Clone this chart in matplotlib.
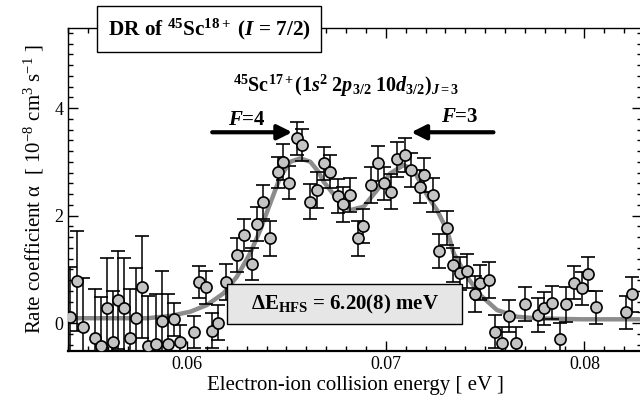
import matplotlib
matplotlib.use("Agg")
import matplotlib.pyplot as plt
from matplotlib.patches import Rectangle
from matplotlib.ticker import MultipleLocator

plt.rcParams['font.family'] = ['Liberation Serif', 'DejaVu Serif']
plt.rcParams['mathtext.fontset'] = 'custom'
plt.rcParams['mathtext.rm'] = 'Liberation Serif'
plt.rcParams['mathtext.it'] = 'Liberation Serif:italic'
plt.rcParams['mathtext.bf'] = 'Liberation Serif:bold'
plt.rcParams['mathtext.bfit'] = 'Liberation Serif:italic:bold'

# measured DR rate coefficients (energy in eV, rate in 1e-8 cm^3 s^-1)
energy = [0.05411, 0.05444, 0.05478, 0.05537, 0.05565, 0.05595, 0.05626, 0.05654,
          0.05683, 0.05713, 0.05743, 0.05775, 0.05802, 0.05842, 0.05873, 0.05903,
          0.05933, 0.05965, 0.06032, 0.06062, 0.06094, 0.06124, 0.06155, 0.06196,
          0.06253, 0.06284, 0.06326, 0.06354, 0.06384, 0.06418, 0.06455, 0.06485,
          0.06515, 0.06553, 0.06578, 0.06616, 0.06656, 0.06687, 0.06717, 0.06757,
          0.06784, 0.06818, 0.06858, 0.06885, 0.06925, 0.06959, 0.06989, 0.07026,
          0.07056, 0.07095, 0.07127, 0.07170, 0.07194, 0.07236, 0.07266, 0.07308,
          0.07337, 0.07375, 0.07409, 0.07451, 0.07476, 0.07518, 0.07552, 0.07585,
          0.07619, 0.07657, 0.07699, 0.07765, 0.07798, 0.07837, 0.07879, 0.07908,
          0.07950, 0.07988, 0.08017, 0.08059, 0.08210, 0.08240]
rate = [0.117, 0.781, -0.069, -0.285, -0.422, 0.273, -0.348, 0.428,
        0.273, -0.285, 0.087, 0.675, -0.422, -0.396, 0.043, -0.396,
        0.069, -0.348, -0.162, 0.768, 0.664, -0.143, 0.006, 0.768,
        1.265, 1.637, 1.098, 1.842, 2.257, 1.576, 2.804, 3.001,
        2.610, 3.436, 3.312, 2.257, 2.474, 2.971, 2.815, 2.363,
        2.208, 2.381, 1.576, 1.805, 2.567, 2.971, 2.599, 2.443,
        3.046, 3.126, 2.847, 2.536, 2.753, 2.381, 1.340, 1.773,
        1.079, 0.925, 0.973, 0.540, 0.750, 0.800, -0.162, -0.378,
        0.136, -0.378, 0.353, 0.149, 0.273, 0.378, -0.303, 0.348,
        0.750, 0.646, 0.912, 0.292, 0.199, 0.534]
rate_err = [0.93, 0.93, 0.91, 0.91, 0.91, 0.94, 0.94, 0.92,
            0.94, 0.92, 0.94, 0.95, 0.92, 0.93, 0.93, 0.93,
            0.31, 0.31, 0.30, 0.30, 0.31, 0.33, 0.33, 0.33,
            0.31, 0.30, 0.30, 0.31, 0.32, 0.32, 0.29, 0.33,
            0.31, 0.30, 0.30, 0.33, 0.33, 0.31, 0.31, 0.32,
            0.32, 0.31, 0.33, 0.32, 0.33, 0.32, 0.31, 0.33,
            0.32, 0.31, 0.31, 0.31, 0.31, 0.31, 0.32, 0.32,
            0.32, 0.31, 0.32, 0.33, 0.33, 0.33, 0.31, 0.31,
            0.30, 0.31, 0.31, 0.31, 0.31, 0.31, 0.31, 0.32,
            0.31, 0.31, 0.31, 0.31, 0.31, 0.32]

# fitted curve
fit_energy = [0.0538, 0.0580, 0.0591, 0.06015, 0.06099, 0.06183, 0.0625, 0.06317,
              0.06368, 0.06418, 0.06469, 0.06519, 0.06569, 0.0662, 0.06661, 0.06687,
              0.06754, 0.06821, 0.06888, 0.06956, 0.07023, 0.0709, 0.0714, 0.07208,
              0.07258, 0.07308, 0.07342, 0.07409, 0.07476, 0.0756, 0.07661, 0.07762,
              0.0798, 0.0835]
fit_rate = [0.09, 0.09, 0.13, 0.21, 0.335, 0.553, 0.861, 1.297,
            1.73, 2.227, 2.722, 3.001, 3.064, 3.001, 2.815, 2.629,
            2.32, 2.102, 2.164, 2.474, 2.785, 2.94, 2.847, 2.38,
            2.102, 1.73, 1.297, 0.861, 0.521, 0.242, 0.117, 0.087,
            0.07, 0.07]

fig = plt.figure(figsize=(6.4, 4.03), dpi=100)
ax = fig.add_axes([68 / 640, 52 / 403, 574 / 640, 323 / 403])

ax.plot(fit_energy, fit_rate, color='#8c8c8c', linewidth=3.2, zorder=2,
        solid_capstyle='round', solid_joinstyle='round')
ax.errorbar(energy, rate, yerr=rate_err, fmt='o', color='black',
            markerfacecolor='#c4c4c4', markeredgecolor='black',
            markersize=8, markeredgewidth=1.2, elinewidth=1.1,
            capsize=5, capthick=1.1, zorder=3)

ax.set_xlim(0.0540, 0.0829)
ax.set_ylim(-0.52, 5.49)
ax.xaxis.set_major_locator(MultipleLocator(0.01))
ax.xaxis.set_minor_locator(MultipleLocator(0.001))
ax.yaxis.set_major_locator(MultipleLocator(2))
ax.yaxis.set_minor_locator(MultipleLocator(0.2))
ax.xaxis.set_major_formatter(matplotlib.ticker.FormatStrFormatter('%.2f'))
ax.tick_params(which='both', direction='in', top=True, right=True,
               labelsize=13, width=1)
ax.tick_params(which='major', length=7)
ax.tick_params(which='minor', length=3.5)
for side in ['left', 'top', 'right']:
    ax.spines[side].set_linewidth(1)
ax.spines['bottom'].set_linewidth(1.6)

ax.set_xlabel('Electron-ion collision energy [ eV ]', fontsize=15, labelpad=2)
ax.set_ylabel(r'Rate coefficient α  [ 10$^{\mathrm{-8}}$ cm$^{3}$ s$^{\mathrm{-1}}$ ]',
              fontsize=15, labelpad=6)

# delta E box
ax.add_patch(Rectangle((0.06202, -0.02), 0.01183, 0.746, facecolor='#e6e6e6',
                       edgecolor='black', linewidth=1, zorder=5))
ax.text(0.06793, 0.35, r'$\mathbf{\Delta E_{HFS}}$ = 6.20(8) meV',
        fontsize=15, fontweight='bold', ha='center', va='center', zorder=6)

# hyperfine arrows
ax.annotate('', xy=(0.06529, 3.55), xytext=(0.06126, 3.55),
            arrowprops=dict(arrowstyle='-|>', lw=3, color='black',
                            mutation_scale=22, shrinkA=0, shrinkB=0), zorder=6)
ax.annotate('', xy=(0.07128, 3.55), xytext=(0.07542, 3.55),
            arrowprops=dict(arrowstyle='-|>', lw=3, color='black',
                            mutation_scale=22, shrinkA=0, shrinkB=0), zorder=6)
ax.text(0.06302, 3.78, r'$\mathbfit{F}$=4', fontsize=15, fontweight='bold',
        ha='center', va='center')
ax.text(0.07375, 3.83, r'$\mathbfit{F}$=3', fontsize=15, fontweight='bold',
        ha='center', va='center')

ax.text(0.06800, 4.42,
        r'$\mathbf{{}^{45}Sc^{17+}(1}\mathbfit{s}^{\mathbf{2}}\mathbf{\ 2}'
        r'\mathbfit{p}_{\mathbf{3/2}}\mathbf{\ 10}\mathbfit{d}_{\mathbf{3/2}}'
        r'\mathbf{)}_{\mathbfit{J}\mathbf{{=}3}}$',
        fontsize=14.5, ha='center', va='center')

fig.text(209 / 640, 1 - 29 / 403,
         r'DR of $\mathbf{{}^{45}Sc^{18+}}$ ($\mathbfit{I}$ = 7/2)',
         fontsize=15.3, fontweight='bold', ha='center', va='center',
         bbox=dict(boxstyle='square,pad=0.5', facecolor='white',
                   edgecolor='black', linewidth=1))

fig.savefig('out.png', dpi=100)
